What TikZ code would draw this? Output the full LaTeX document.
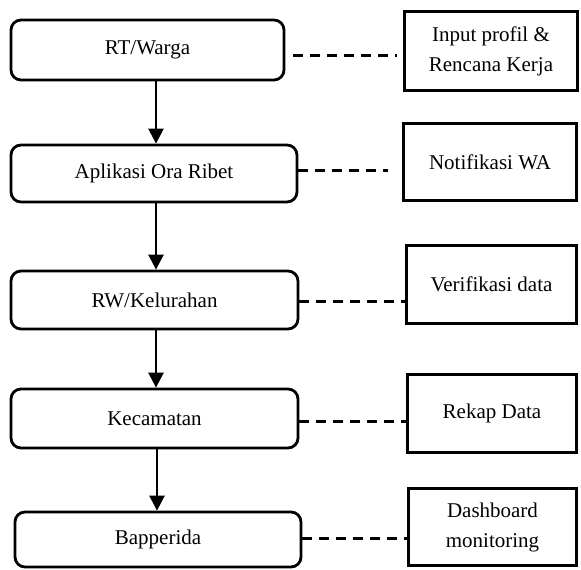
\documentclass[tikz,border=0pt]{standalone}
\usepackage{fontspec}
\setmainfont{Liberation Serif}
\usetikzlibrary{arrows.meta}
\begin{document}
\begin{tikzpicture}[x=1pt,y=-1pt,
  every node/.style={font=\fontsize{21}{30}\selectfont, inner sep=0pt},
  flowbox/.style={draw, line width=2.8pt, rounded corners=10pt, align=center},
  infobox/.style={draw, line width=3.2pt, align=center},
  arr/.style={line width=2.6pt, -{Triangle[width=15pt,length=15pt]}},
  dsh/.style={line width=3pt, dash pattern=on 10pt off 7pt}]
\useasboundingbox (0,0) rectangle (581,570);
% left column
\node[flowbox, minimum width=273pt, minimum height=60pt] (rt) at (147.5,50) {RT/Warga};
\node[flowbox, minimum width=286pt, minimum height=57pt] (apl) at (154,173.5) {Aplikasi Ora Ribet};
\node[flowbox, minimum width=287pt, minimum height=58pt] (rw) at (154.5,300) {RW/Kelurahan};
\node[flowbox, minimum width=287pt, minimum height=59pt] (kec) at (154.5,418.5) {Kecamatan};
\node[flowbox, minimum width=286pt, minimum height=55pt] (bap) at (158,539.5) {Bapperida};
% right column
\node[infobox, minimum width=173pt, minimum height=79pt] (inp) at (491,51) {Input profil \&\\Rencana Kerja};
\node[infobox, minimum width=173pt, minimum height=77pt] (notif) at (490,162) {Notifikasi WA};
\node[infobox, minimum width=170pt, minimum height=78pt] (verif) at (491.5,284.5) {Verifikasi data};
\node[infobox, minimum width=169pt, minimum height=78pt] (rekap) at (492,413.5) {Rekap Data};
\node[infobox, minimum width=168pt, minimum height=77pt] (dash) at (492.5,527) {Dashboard\\monitoring};
% arrows
\coordinate (ax) at (156,0);
\draw[arr] (rt.south -| ax) -- (apl.north -| ax);
\draw[arr] (apl.south -| ax) -- (rw.north -| ax);
\draw[arr] (rw.south -| ax) -- (kec.north -| ax);
\coordinate (bx) at (157,0);
\draw[arr] (kec.south -| bx) -- (bap.north -| bx);
% dashed connectors
\coordinate (y1) at (0,55);
\coordinate (y2) at (0,170);
\coordinate (y3) at (0,301);
\coordinate (y4) at (0,421);
\coordinate (y5) at (0,538);
\draw[dsh, shorten <=8pt, shorten >=6pt] (rt.east |- y1) -- (inp.west |- y1);
\draw[dsh, shorten >=14pt] (apl.east |- y2) -- (notif.west |- y2);
\draw[dsh] (rw.east |- y3) -- (verif.west |- y3);
\draw[dsh] (kec.east |- y4) -- (rekap.west |- y4);
\draw[dsh] (bap.east |- y5) -- (dash.west |- y5);
\end{tikzpicture}
\end{document}
